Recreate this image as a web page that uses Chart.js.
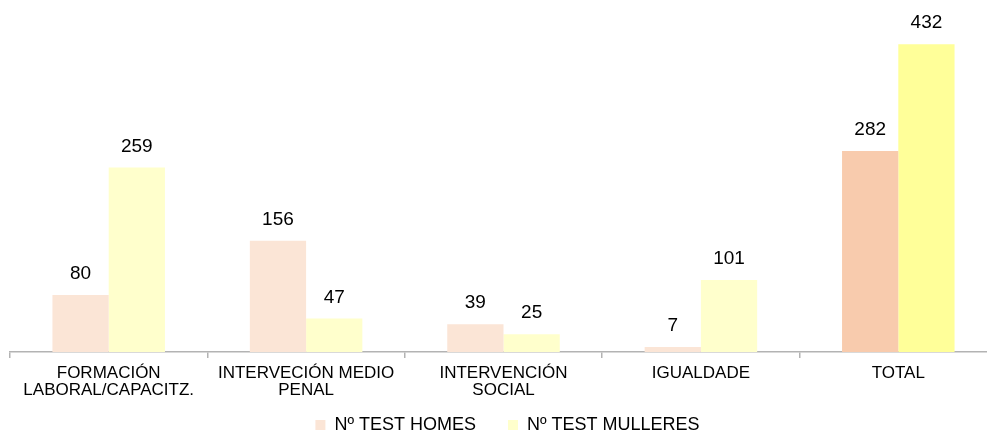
<!DOCTYPE html>
<html>
<head>
<meta charset="utf-8">
<script src="https://cdn.jsdelivr.net/npm/chart.js@4"></script>
<style>
  html, body { margin: 0; padding: 0; background: #fff; overflow: hidden; }
  #clip { width: 987px; height: 431px; overflow: hidden; }
  #wrap { width: 997px; height: 466px; }
</style>
</head>
<body>
<div id="clip"><div id="wrap"><canvas id="chart"></canvas></div></div>
<script>
const categories = [
  ["FORMACIÓN", "LABORAL/CAPACITZ."],
  ["INTERVECIÓN MEDIO", "PENAL"],
  ["INTERVENCIÓN", "SOCIAL"],
  "IGUALDADE",
  "TOTAL",
];
const homesValues = [80, 156, 39, 7, 282];
const mulleresValues = [259, 47, 25, 101, 432];
const seriesNames = ["Nº TEST HOMES", "Nº TEST MULLERES"];

const homesColors = ["#FBE5D6", "#FBE5D6", "#FBE5D6", "#FBE5D6", "#F8CBAD"];
const mulleresColors = ["#FFFFCC", "#FFFFCC", "#FFFFCC", "#FFFFCC", "#FFFF99"];

const FONT = "'Liberation Sans', Arial, sans-serif";
const LEGEND_PAD = 32;
const LEGEND_FONT = 18;

// value labels above each bar
const valueLabels = {
  id: "valueLabels",
  afterDatasetsDraw(chart) {
    const ctx = chart.ctx;
    ctx.save();
    ctx.font = "19px " + FONT;
    ctx.fillStyle = "#000";
    ctx.textAlign = "center";
    ctx.textBaseline = "middle";
    chart.data.datasets.forEach((ds, i) => {
      chart.getDatasetMeta(i).data.forEach((bar, j) => {
        ctx.fillText(ds.data[j], bar.x, bar.y - 21);
      });
    });
    ctx.restore();
  },
};

// pull the legend up so its text sits at y=425
const legendPlace = {
  id: "legendPlace",
  afterLayout(chart) {
    const lg = chart.legend;
    const h = lg.height;
    lg.top = 425 - (LEGEND_PAD + LEGEND_FONT / 2);
    lg.bottom = lg.top + h;
    lg.left += 4;
    lg.right += 4;
  },
};

new Chart(document.getElementById("chart"), {
  type: "bar",
  data: {
    labels: categories,
    datasets: [
      { label: seriesNames[0], data: homesValues, backgroundColor: homesColors },
      { label: seriesNames[1], data: mulleresValues, backgroundColor: mulleresColors },
    ],
  },
  options: {
    responsive: true,
    maintainAspectRatio: false,
    animation: false,
    categoryPercentage: 0.57,
    barPercentage: 1,
    layout: { padding: { left: 10, right: 0, top: 0, bottom: 0 } },
    plugins: {
      tooltip: { enabled: false },
      legend: {
        position: "bottom",
        labels: {
          boxWidth: 10,
          boxHeight: 10,
          padding: LEGEND_PAD,
          color: "#000",
          font: { size: LEGEND_FONT, family: FONT },
          generateLabels(chart) {
            return chart.data.datasets.map((ds, i) => ({
              text: ds.label,
              fillStyle: i === 0 ? homesColors[0] : mulleresColors[0],
              strokeStyle: "transparent",
              lineWidth: 0,
              datasetIndex: i,
            }));
          },
        },
      },
    },
    scales: {
      x: {
        grid: {
          offset: true,
          drawOnChartArea: false,
          tickLength: 6,
          lineWidth: 1.5,
          color: "#b3b3b3",
        },
        border: { color: "#b3b3b3", width: 1.5 },
        ticks: {
          color: "#000",
          padding: 7,
          maxRotation: 0,
          autoSkip: false,
          font: { size: 17, family: FONT, lineHeight: 1.0 },
        },
      },
      y: {
        display: false,
        min: 0,
        max: 494,
      },
    },
  },
  plugins: [valueLabels, legendPlace],
});
</script>
</body>
</html>
